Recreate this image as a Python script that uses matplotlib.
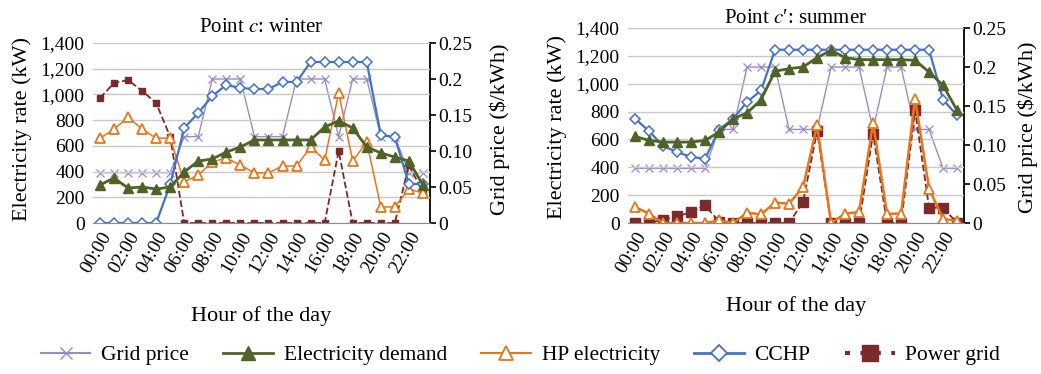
import matplotlib
matplotlib.use("Agg")
import matplotlib.pyplot as plt
import numpy as np

plt.rcParams['font.family'] = ['Liberation Serif', 'DejaVu Serif']
plt.rcParams['mathtext.fontset'] = 'stix'

hours = np.arange(24)
tick_hours = hours[::2]
tick_labels = ['%02d:00' % h for h in tick_hours]

# grid price ($/kWh), same tariff in both seasons
grid_price = [0.07, 0.07, 0.07, 0.07, 0.07, 0.07, 0.12, 0.12, 0.2, 0.2, 0.2, 0.12,
              0.12, 0.12, 0.2, 0.2, 0.2, 0.12, 0.2, 0.2, 0.12, 0.12, 0.07, 0.07]

# winter, point c (kW)
w_demand = [296, 350, 272, 280, 264, 280, 397, 482, 498, 552, 591, 646,
            646, 646, 646, 646, 747, 794, 739, 591, 545, 513, 482, 296]
w_hp = [660, 730, 823, 730, 660, 660, 320, 373, 475, 506, 450, 390,
        390, 443, 443, 591, 490, 1011, 482, 630, 125, 125, 264, 233]
w_cchp = [0, 0, 0, 0, 0, 300, 739, 856, 988, 1074, 1050, 1042,
          1042, 1097, 1097, 1252, 1252, 1252, 1252, 1252, 685, 669, 303, 303]
w_grid = [972, 1089, 1112, 1027, 934, 670, 0, 0, 0, 0, 0, 0,
          0, 0, 0, 0, 0, 560, 0, 0, 0, 0, 450, 240]

# summer, point c' (kW)
s_demand = [622, 593, 581, 581, 581, 593, 653, 749, 790, 885, 1090, 1108,
            1120, 1187, 1240, 1187, 1173, 1173, 1173, 1173, 1168, 1084, 988, 809]
s_hp = [115, 67, 0, 0, 0, 0, 19, 0, 74, 62, 147, 139,
        258, 701, 0, 67, 79, 718, 67, 67, 893, 246, 31, 14]
s_cchp = [749, 660, 553, 510, 474, 462, 670, 749, 869, 952, 1244, 1244,
          1244, 1244, 1244, 1244, 1244, 1244, 1244, 1244, 1244, 1244, 885, 773]
s_grid = [0, 0, 24, 48, 77, 127, 10, 0, 0, 0, 0, 0,
          151, 660, 0, 0, 0, 641, 0, 0, 809, 110, 110, 0]

c_price = '#9b8ac9'
c_demand = '#4f6228'
c_hp = '#e8751a'
c_cchp = '#4472c4'
c_grid = '#7a2a2a'

fs_tick = 14
fs_lab = 16

fig = plt.figure(figsize=(10.41, 3.74), dpi=100)


def panel(rect, title, title_pad, demand, hp, cchp, grid, big, xl_y, yl_y, yr_x):
  ax = fig.add_axes(rect)
  ax2 = ax.twinx()
  ax.set_zorder(ax2.get_zorder() + 1)
  ax.patch.set_visible(False)

  ax2.plot(hours, grid_price, color=c_price, lw=1.0, marker='x', ms=6, mew=0.9)

  ms_sq = 7 if big else 4.5
  lw_hp = 1.8 if big else 1.1
  ax.plot(hours, grid, color=c_grid, lw=1.3, ls='--', marker='s', ms=ms_sq)
  ax.plot(hours, hp, color=c_hp, lw=lw_hp, marker='^', ms=7, mfc='white', mec=c_hp, mew=1.3)
  ax.plot(hours, cchp, color=c_cchp, lw=1.6, marker='D', ms=5, mfc='white', mec=c_cchp, mew=1.1)
  ax.plot(hours, demand, color=c_demand, lw=2.0, marker='^', ms=7)

  ax.set_xlim(-0.5, 23.5)
  ax.set_ylim(0, 1400)
  ax2.set_ylim(0, 0.25)
  ax.set_yticks(np.arange(0, 1401, 200))
  ax.set_yticklabels(['{:,}'.format(v) for v in range(0, 1401, 200)])
  ax2.set_yticks([0, 0.05, 0.10, 0.15, 0.2, 0.25])
  ax2.set_yticklabels(['0', '0.05', '0.10', '0.15', '0.2', '0.25'])
  ax.set_xticks(tick_hours)
  ax.set_xticklabels(tick_labels, rotation=60, ha='right', rotation_mode='anchor')
  ax.tick_params(axis='x', length=0, labelsize=fs_tick, pad=4)
  ax.tick_params(axis='y', length=0, labelsize=fs_tick, pad=6)
  ax2.tick_params(axis='y', length=4, width=1.2, labelsize=fs_tick, pad=2, direction='out')
  ax.yaxis.grid(True, color='#c8c8c8', lw=1.0)
  ax.set_axisbelow(True)

  for a in (ax, ax2):
    a.spines['top'].set_visible(False)
    a.spines['left'].set_visible(False)
  ax.spines['right'].set_visible(False)
  ax2.spines['bottom'].set_visible(False)
  ax.spines['bottom'].set_color('#8c8c8c')
  ax2.spines['right'].set_color('black')
  ax2.spines['right'].set_linewidth(1.3)

  ax.set_title(title, fontsize=15, pad=title_pad)
  ax.set_ylabel('Electricity rate (kW)', fontsize=fs_lab)
  ax.yaxis.set_label_coords(-0.182, yl_y)
  ax2.set_ylabel('Grid price ($/kWh)', fontsize=fs_lab)
  ax2.yaxis.set_label_coords(yr_x, yl_y)
  ax.set_xlabel('Hour of the day', fontsize=fs_lab)
  ax.xaxis.set_label_coords(0.5, xl_y)
  return ax


panel([0.0893, 0.4037, 0.3237, 0.4813], 'Point $c$: winter', 8,
      w_demand, w_hp, w_cchp, w_grid, False, -0.46, 0.52, 1.177)
panel([0.6033, 0.4037, 0.3228, 0.5214], 'Point $c$\u2032: summer', 3,
      s_demand, s_hp, s_cchp, s_grid, True, -0.375, 0.49, 1.158)

# legend
handles = [
  plt.Line2D([], [], color=c_price, lw=1.5, marker='x', ms=8, mew=1.0),
  plt.Line2D([], [], color=c_demand, lw=2.0, marker='^', ms=10),
  plt.Line2D([], [], color=c_hp, lw=1.5, marker='^', ms=10, mfc='white', mec=c_hp, mew=1.3),
  plt.Line2D([], [], color=c_cchp, lw=2.0, marker='D', ms=8, mfc='white', mec=c_cchp, mew=1.3),
  plt.Line2D([], [], color=c_grid, lw=3.0, ls=(0, (1.2, 2.5)), marker='s', ms=12),
]
labels = ['Grid price', 'Electricity demand', 'HP electricity', 'CCHP', 'Power grid']
fig.legend(handles, labels, loc='center', bbox_to_anchor=(0.5, 0.05), ncol=5,
           frameon=False, fontsize=15.5, handlelength=2.3, handletextpad=0.5,
           columnspacing=1.6)

fig.savefig('out.png', dpi=100)
